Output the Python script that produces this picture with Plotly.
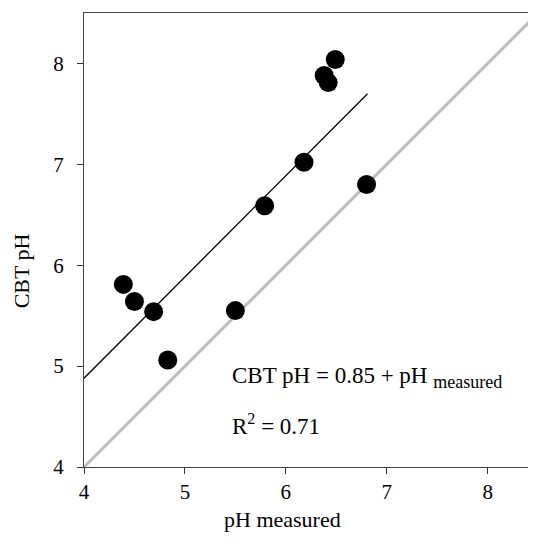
import plotly.graph_objects as go

ph_measured = [4.39, 4.50, 4.69, 4.83, 5.50, 5.79, 6.18, 6.38, 6.42, 6.49, 6.80]
cbt_ph = [5.81, 5.64, 5.54, 5.06, 5.55, 6.59, 7.02, 7.88, 7.81, 8.04, 6.80]
fit_x = [4.0, 6.81]
fit_y = [4.88, 7.70]
one_to_one = [4.0, 8.5]
tick_vals = [4, 5, 6, 7, 8]

FONT = "Liberation Serif"

fig = go.Figure()
fig.add_trace(go.Scatter(x=one_to_one, y=one_to_one, mode="lines",
                         line=dict(color="#bdbdbd", width=3), hoverinfo="skip"))
fig.add_trace(go.Scatter(x=fit_x, y=fit_y, mode="lines",
                         line=dict(color="black", width=1.3), hoverinfo="skip"))
fig.add_trace(go.Scatter(x=ph_measured, y=cbt_ph, mode="markers",
                         marker=dict(color="black", size=19, line=dict(width=0)),
                         cliponaxis=False))

fig.add_annotation(x=5.447, y=4.89, xref="x", yref="y", xanchor="left", yanchor="middle",
                   text="CBT pH = 0.85 + pH <sub><span style=\"font-size:18px\">measured</span></sub>",
                   showarrow=False, font=dict(family=FONT, size=23, color="black"))
fig.add_annotation(x=5.447, y=4.42, xref="x", yref="y", xanchor="left", yanchor="middle",
                   text="R<sup>2</sup> = 0.71", showarrow=False,
                   font=dict(family=FONT, size=23, color="black"))

# axis titles
fig.add_annotation(x=0.446, y=-0.116, xref="paper", yref="paper", xanchor="center",
                   yanchor="middle", text="pH measured", showarrow=False,
                   font=dict(family=FONT, size=22, color="black"))
fig.add_annotation(x=-0.142, y=0.433, xref="paper", yref="paper", xanchor="center",
                   yanchor="middle", text="CBT pH", textangle=-90, showarrow=False,
                   font=dict(family=FONT, size=22, color="black"))

fig.update_layout(
    width=520, height=527,
    margin=dict(l=76, r=0, t=5, b=68),
    plot_bgcolor="white", paper_bgcolor="white",
    showlegend=False,
    font=dict(family=FONT, size=21, color="black"),
)
fig.update_xaxes(range=[4, 8.40], tickvals=tick_vals, ticks="outside", ticklen=6,
                 tickcolor="#333", showline=True, linecolor="#444", linewidth=1.3,
                 mirror=True, showgrid=False, zeroline=False, automargin=False,
                 ticklabelstandoff=0,
                 tickfont=dict(family=FONT, size=21))
fig.update_yaxes(range=[4, 8.5], tickvals=tick_vals, ticks="outside", ticklen=6,
                 tickcolor="#333", showline=True, linecolor="#444", linewidth=1.3,
                 showgrid=False, zeroline=False, automargin=False,
                 ticklabelstandoff=9,
                 tickfont=dict(family=FONT, size=21))

fig.write_html("out.html")
